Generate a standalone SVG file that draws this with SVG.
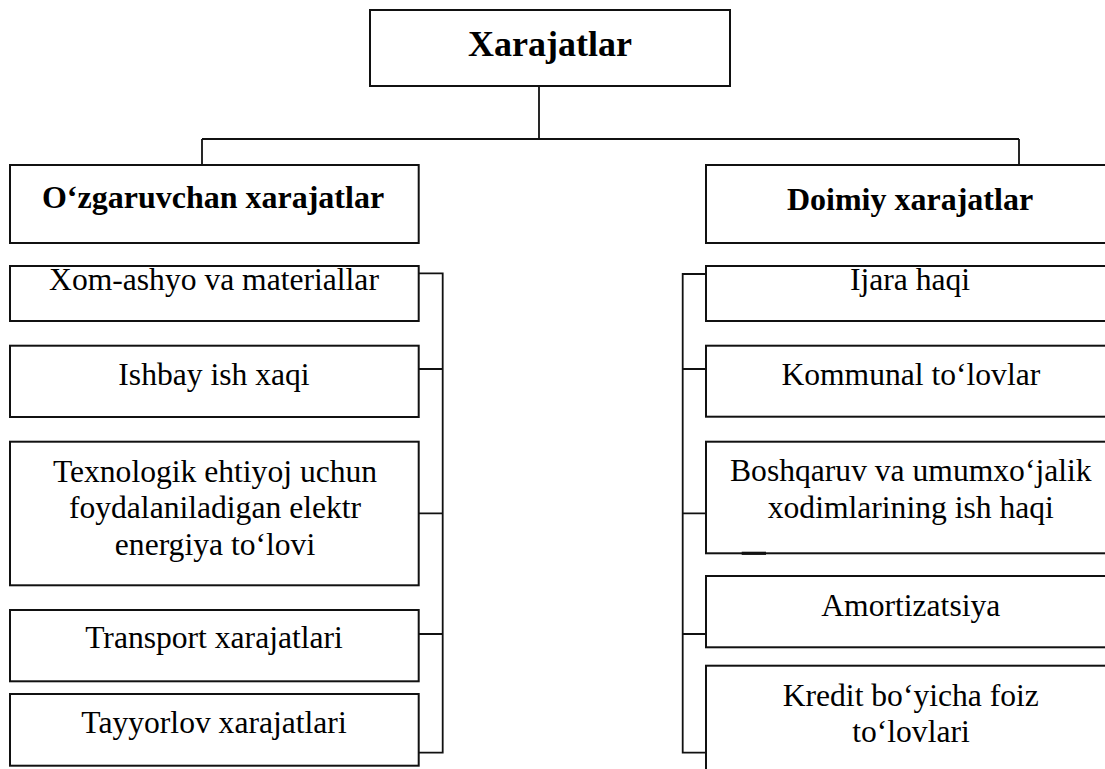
<svg xmlns="http://www.w3.org/2000/svg" width="1105" height="769" viewBox="0 0 1105 769">
  <style>
    .box { fill: #fff; stroke: #111; stroke-width: 2; }
    .wire { fill: none; stroke: #111; stroke-width: 1.8; }
    .t { font-family: "Liberation Serif", "Times New Roman", serif; font-size: 31.6px; fill: #000; text-anchor: middle; }
    .h { font-family: "Liberation Serif", "Times New Roman", serif; font-size: 32px; font-weight: bold; fill: #000; text-anchor: middle; }
    .title { font-family: "Liberation Serif", "Times New Roman", serif; font-size: 36px; font-weight: bold; fill: #000; text-anchor: middle; }
  </style>
  <rect width="1105" height="769" fill="#fff"/>

  <!-- connectors -->
  <g id="connectors" class="wire">
    <path d="M539 86 V139 M202 139 H1019 M202 139 V165 M1019 139 V165"/>
    <!-- variable costs bracket -->
    <path d="M418.7 273.3 H442.7 V752.7 H418.7 M418.7 369 H442.7 M418.7 513.3 H442.7 M418.7 634 H442.7"/>
    <!-- fixed costs bracket -->
    <path d="M706 274 H682.7 V752.7 H706 M706 369 H682.7 M706 513.3 H682.7 M706 634 H682.7"/>
  </g>

  <g id="root">
    <rect class="box" x="370" y="10" width="360" height="76"/>
    <text class="title" x="550" y="56">Xarajatlar</text>
  </g>

  <g id="variable">
    <rect class="box" x="10" y="165" width="408.7" height="78"/>
    <text class="h" x="213" y="208">O‘zgaruvchan xarajatlar</text>
  </g>

  <g id="fixed">
    <rect class="box" x="706" y="165" width="410" height="78"/>
    <text class="h" x="910" y="210">Doimiy xarajatlar</text>
  </g>

  <g id="v1">
    <rect class="box" x="10" y="266" width="408.7" height="55"/>
    <text class="t" x="214" y="290">Xom-ashyo va materiallar</text>
  </g>
  <g id="v2">
    <rect class="box" x="10" y="345.7" width="408.7" height="71.3"/>
    <text class="t" x="214" y="385">Ishbay ish xaqi</text>
  </g>
  <g id="v3">
    <rect class="box" x="10" y="441.7" width="408.7" height="143.6"/>
    <text class="t" x="215" y="481.7">Texnologik ehtiyoj uchun</text>
    <text class="t" x="215" y="518.3">foydalaniladigan elektr</text>
    <text class="t" x="215" y="555">energiya to‘lovi</text>
  </g>
  <g id="v4">
    <rect class="box" x="10" y="610" width="408.7" height="71.3"/>
    <text class="t" x="214" y="648.3">Transport xarajatlari</text>
  </g>
  <g id="v5">
    <rect class="box" x="10" y="694" width="408.7" height="71.7"/>
    <text class="t" x="214" y="733">Tayyorlov xarajatlari</text>
  </g>

  <g id="f1">
    <rect class="box" x="706" y="266" width="410" height="55"/>
    <text class="t" x="910" y="290">Ijara haqi</text>
  </g>
  <g id="f2">
    <rect class="box" x="706" y="345.7" width="410" height="71"/>
    <text class="t" x="910.8" y="385">Kommunal to‘lovlar</text>
  </g>
  <g id="f3">
    <rect class="box" x="706" y="441.7" width="410" height="111.6"/>
    <text class="t" x="910.8" y="480.7">Boshqaruv va umumxo‘jalik</text>
    <text class="t" x="910.8" y="518.3">xodimlarining ish haqi</text>
    <line x1="741.7" y1="553.3" x2="766" y2="553.3" stroke="#111" stroke-width="3.2"/>
  </g>
  <g id="f4">
    <rect class="box" x="706" y="576" width="410" height="71.3"/>
    <text class="t" x="910.8" y="615.7">Amortizatsiya</text>
  </g>
  <g id="f5">
    <rect class="box" x="706" y="665.7" width="410" height="120"/>
    <text class="t" x="910.8" y="705.7">Kredit bo‘yicha foiz</text>
    <text class="t" x="911" y="741.7">to‘lovlari</text>
  </g>
</svg>
